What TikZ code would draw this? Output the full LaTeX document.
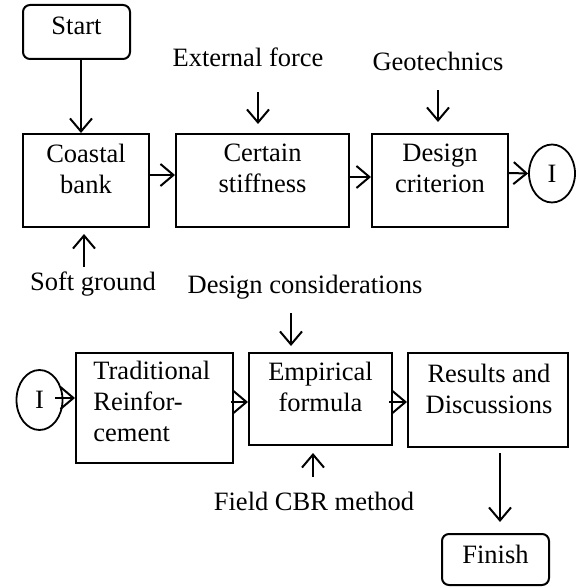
\documentclass[tikz,border=0pt]{standalone}
\usepackage{fontspec}
\setmainfont{Liberation Serif}
\usetikzlibrary{arrows.meta,shapes.geometric}

\begin{document}
\begin{tikzpicture}[x=0.5pt, y=-0.5pt,
  font=\fontsize{13.25}{15.5}\selectfont,
  box/.style 2 args={draw, line width=1pt, minimum width=#1*0.5pt, minimum height=#2*0.5pt, inner sep=0pt},
  ends/.style 2 args={box={#1}{#2}, rounded corners=3.5pt},
  conn/.style={draw, ellipse, line width=0.9pt, inner sep=0pt, minimum width=23pt, minimum height=29pt},
  lbl/.style={inner sep=0pt, text height=9pt, text depth=3pt, anchor=base},
  txt/.style={inner sep=0pt, align=center, anchor=north},
  arr/.style={line width=1pt, -{Straight Barb[length=6.5pt, width=11pt, line width=1pt]}}]
\useasboundingbox (0,0) rectangle (576,587);

% first row
\node[ends={107}{54}] (start) at (76.5,32) {};
\node[lbl] (startt) at (76.5,35) {Start};
\node[box={126}{93}] (cb) at (86,180.5) {};
\node[txt] (cbt) at (86,144) {Coastal\\bank};
\node[box={173}{93}] (cs) at (262.5,180.5) {};
\node[txt] (cst) at (262.5,144) {Certain\\stiffness};
\node[box={136}{93}] (dc) at (440,180.5) {};
\node[txt] (dct) at (440,144) {Design\\criterion};
\node[conn] (ia) at (552,173.5) {I};

\node[lbl] (ext) at (248,67) {External force};
\node[lbl] (geo) at (438,71) {Geotechnics};
\node[lbl] (soft) at (93,290) {Soft ground};

% second row
\node[conn, minimum height=30pt] (ib) at (39.5,400) {I};
\node[box={157}{110}] (tr) at (154.5,408) {};
\node[txt, anchor=north west, align=left] (trt) at (93,361) {Traditional\\Reinfor-\\cement};
\node[box={143}{92}] (ef) at (320.5,399) {};
\node[txt] (eft) at (320.5,362) {Empirical\\formula};
\node[box={160}{94}] (rd) at (488,400) {};
\node[txt] (rdt) at (489,364) {Results and\\Discussions};
\node[ends={107}{51}] (fin) at (495.5,559.5) {};
\node[lbl] (fint) at (495.5,563) {Finish};

\node[lbl] (dcon) at (305,293) {Design considerations};
\node[lbl] (fcbr) at (314,510) {Field CBR method};

% connectors
\draw[arr] ([xshift=2.25pt]start.south) -- ([xshift=-2.5pt]cb.north);
\draw[arr] ([yshift=2.75pt]cb.east) -- ([yshift=2.75pt]cs.west);
\draw[arr] ([yshift=1.75pt]cs.east) -- ([yshift=1.75pt]dc.west);
\draw[arr] ([yshift=3.75pt]dc.east) -- (ia.west);
\draw[arr, shorten <=9.5pt, shorten >=4.5pt] ([xshift=5pt]ext.south) -- ([xshift=-2.25pt]cs.north);
\draw[arr, shorten <=6.5pt, shorten >=5.5pt] (geo.south) -- ([xshift=-1pt]dc.north);
\draw[arr, shorten <=2.5pt, shorten >=3pt] ([xshift=-4.5pt]soft.north) -- ([xshift=-1pt]cb.south);

\draw[arr, shorten <=-4pt] ([yshift=1pt]ib.east) -- ([yshift=5pt]tr.west);
\draw[arr, shorten <=-1.5pt] ([yshift=3pt]tr.east) -- ([yshift=-1.5pt]ef.west);
\draw[arr, shorten <=-2pt] ([yshift=-1.5pt]ef.east) -- ([yshift=-1pt]rd.west);
\draw[arr, shorten <=7pt, shorten >=3pt] ([xshift=-7pt]dcon.south) -- ([xshift=-14.75pt]ef.north);
\draw[arr, shorten <=7.5pt, shorten >=3.5pt] ([xshift=-0.5pt]fcbr.north) -- ([xshift=-3.75pt]ef.south);
\draw[arr, shorten <=2.5pt, shorten >=5.5pt] ([xshift=6pt]rd.south) -- ([xshift=2.25pt]fin.north);
\end{tikzpicture}
\end{document}
